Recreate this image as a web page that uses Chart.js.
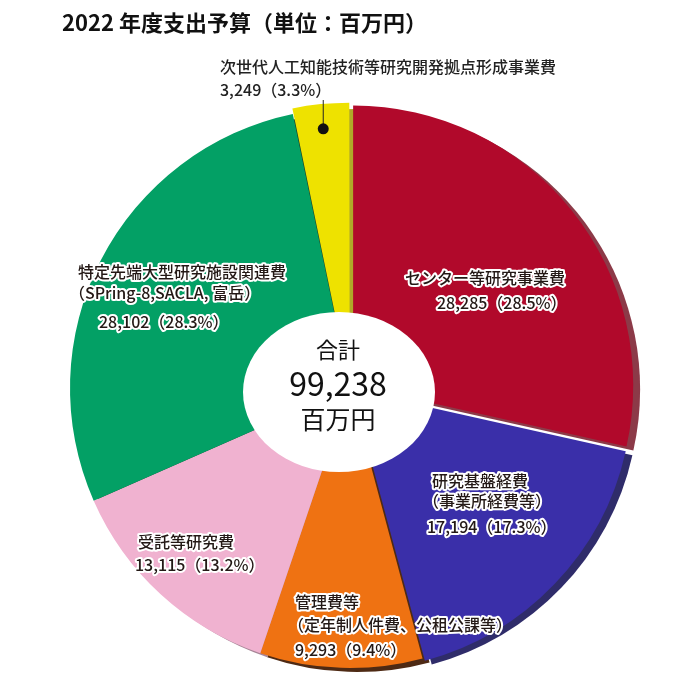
<!DOCTYPE html>
<html lang="ja">
<head>
  <meta charset="UTF-8">
  <title>2022 年度支出予算</title>
  <script src="https://cdn.jsdelivr.net/npm/chart.js"></script>
  <style>
    body {margin:0;background:#fff}
    #marco {position:relative;width:700px;height:700px}
    #titulo {position:absolute;left:62px;top:5px;margin:0;z-index:1;
             font:bold 22px "Noto Sans CJK JP";color:#111}
    #grafico {position:absolute;left:0;top:0}
  </style>
</head>
<body>
<div id="marco">
  <h1 id="titulo">2022 年度支出予算（単位：百万円）</h1>
  <canvas id="grafico" width="700" height="700"></canvas>
</div>
<script>
// datos (百万円), en el orden de las agujas del reloj desde arriba
const categorias = ['センター等研究事業費', '研究基盤経費', '管理費等', '受託等研究費',
                    '特定先端大型研究施設関連費', '次世代人工知能技術等研究開発拠点形成事業費'];
const subtitulos = ['', '（事業所経費等）', '（定年制人件費、公租公課等）', '',
                    '（SPring-8,SACLA, 富岳）', ''];
const valores = [28285, 17194, 9293, 13115, 28102, 3249];

const colores = ['#b1092b', '#3a2fa9', '#ef7212', '#f0b2d0', '#03a065', '#eee200'];
const lados   = ['#8c3a48', '#2f2c6a', '#4e2a14', '#a88597', '#1b3d2a', '#b0a828'];

const total = valores.reduce((a, b) => a + b, 0);
const fmt = n => n.toLocaleString('en-US');

// posiciones de las etiquetas respecto al centro de la tarta
const posEtiquetas = [
  {dx:  55, dy: [-110, -85],       sangria: [0, 32]},
  {dx:  82, dy: [93, 113, 139],    sangria: [0, -9, -5]},
  {dx: -55, dy: [214, 237, 262],   sangria: [0, -7, 0]},
  {dx:-212, dy: [154, 177],        sangria: [0, -3]},
  {dx:-272, dy: [-116, -95, -66],  sangria: [0, -9, 21]},
  {dx:-130, dy: [-321, -298],      sangria: [0, 0]}
];

const FUENTE = '"Noto Sans CJK JP", "Noto Sans", sans-serif';

// cara lateral oscura (efecto 3D)
const lateral = {
  id: 'lateral',
  beforeDatasetsDraw(chart) {
    const ctx = chart.ctx;
    chart.getDatasetMeta(0).data.forEach((arc, i) => {
      const p = arc.getProps(['x', 'y', 'startAngle', 'endAngle', 'outerRadius'], true);
      const mid = (p.startAngle + p.endAngle) / 2;
      const off = (arc.options.offset || 0) / 4;
      ctx.save();
      ctx.translate(p.x + Math.cos(mid) * off + 7, p.y + Math.sin(mid) * off + 4);
      ctx.beginPath();
      ctx.moveTo(0, 0);
      ctx.arc(0, 0, p.outerRadius, p.startAngle, p.endAngle);
      ctx.closePath();
      ctx.fillStyle = lados[i];
      ctx.fill();
      ctx.restore();
    });
  }
};

function texto(ctx, s, x, y) {
  ctx.strokeText(s, x, y);
  ctx.fillText(s, x, y);
}

const etiquetas = {
  id: 'etiquetas',
  afterDatasetsDraw(chart) {
    const ctx = chart.ctx;
    const ca = chart.chartArea;
    const cx = (ca.left + ca.right) / 2, cy = (ca.top + ca.bottom) / 2;

    // centro blanco con el total
    ctx.save();
    ctx.beginPath();
    ctx.ellipse(cx - 11, cy + 4, 96, 80, 0, 0, Math.PI * 2);
    ctx.fillStyle = '#fff';
    ctx.fill();
    ctx.fillStyle = '#111';
    ctx.textAlign = 'center';
    ctx.textBaseline = 'middle';
    ctx.font = '22px ' + FUENTE;
    ctx.fillText('合計', cx - 12, cy - 38);
    ctx.font = '32px ' + FUENTE;
    ctx.fillText(fmt(total), cx - 12, cy - 4);
    ctx.font = '25px ' + FUENTE;
    ctx.fillText('百万円', cx - 12, cy + 31);
    ctx.restore();

    // linea guia y punto del segmento pequeño
    const arcs = chart.getDatasetMeta(0).data;
    const a = arcs[5].getProps(['x', 'y', 'startAngle', 'endAngle', 'outerRadius'], true);
    const mid = (a.startAngle + a.endAngle) / 2;
    const off = (arcs[5].options.offset || 0) / 4;
    const px = a.x + Math.cos(mid) * (a.outerRadius * 0.92 + off);
    const py = a.y + Math.sin(mid) * (a.outerRadius * 0.92 + off);
    ctx.save();
    ctx.strokeStyle = '#222';
    ctx.lineWidth = 1;
    ctx.beginPath();
    ctx.moveTo(px, py);
    ctx.lineTo(px, cy + posEtiquetas[5].dy[1] + 10);
    ctx.stroke();
    ctx.beginPath();
    ctx.arc(px, py, 5.5, 0, Math.PI * 2);
    ctx.fillStyle = '#111';
    ctx.fill();
    ctx.restore();

    // etiquetas de cada segmento
    ctx.save();
    ctx.font = '500 16px ' + FUENTE;
    ctx.textAlign = 'left';
    ctx.textBaseline = 'middle';
    ctx.lineJoin = 'round';
    categorias.forEach((c, i) => {
      const pct = (valores[i] / total * 100).toFixed(1);
      const lineas = [c];
      if (subtitulos[i]) lineas.push(subtitulos[i]);
      lineas.push(fmt(valores[i]) + '（' + pct + '%）');
      const pos = posEtiquetas[i];
      lineas.forEach((s, k) => {
        const x = cx + pos.dx + (pos.sangria[k] || 0);
        const y = cy + pos.dy[k];
        if (i === 5) {
          ctx.fillStyle = '#222';
          ctx.fillText(s, x, y);
        } else {
          ctx.strokeStyle = '#fff';
          ctx.lineWidth = 4;
          ctx.fillStyle = '#231815';
          texto(ctx, s, x, y);
        }
      });
    });
    ctx.restore();
  }
};

new Chart(document.getElementById('grafico'), {
  type: 'pie',
  data: {
    labels: categorias,
    datasets: [{
      data: valores,
      backgroundColor: colores,
      borderWidth: 0,
      offset: [16, 12, 0, 0, 0, 12],
      radius: 280
    }]
  },
  options: {
    responsive: false,
    animation: false,
    devicePixelRatio: 1,
    layout: {padding: {left: 62, right: 62, top: 100, bottom: 24}},
    plugins: {
      legend: {display: false},
      tooltip: {enabled: false}
    }
  },
  plugins: [lateral, etiquetas]
});
</script>
</body>
</html>
